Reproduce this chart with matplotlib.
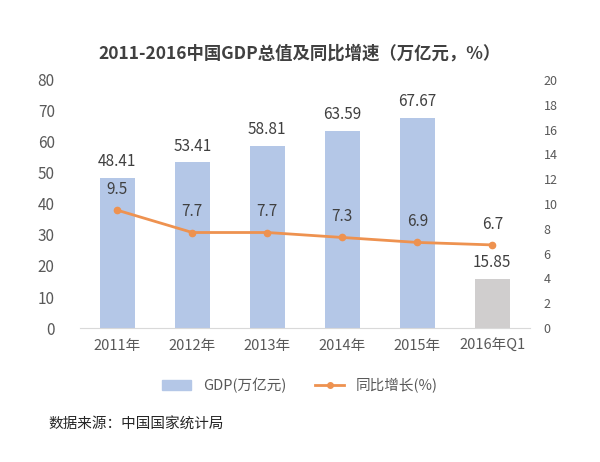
import matplotlib.pyplot as plt
from matplotlib.lines import Line2D
from matplotlib.patches import Patch

plt.rcParams['font.family'] = ['Noto Sans CJK SC', 'DejaVu Sans']

# 數據
categories = ['2011年', '2012年', '2013年', '2014年', '2015年', '2016年Q1']
gdp = [48.41, 53.41, 58.81, 63.59, 67.67, 15.85]
growth = [9.5, 7.7, 7.7, 7.3, 6.9, 6.7]
bar_colors = ['#B4C7E7'] * 5 + ['#D0CECE']

text_color = '#595959'
line_color = '#EE9250'

fig = plt.figure(figsize=(6, 4.62), dpi=100)
ax = fig.add_axes([0.133, 0.29, 0.75, 0.537])
x = range(len(categories))

# 柱狀圖：GDP
ax.bar(x, gdp, width=0.46, color=bar_colors, zorder=2)
for i, v in enumerate(gdp):
    ax.text(i, v + 2.5, f'{v:.2f}', ha='center', va='bottom', fontsize=11, color='#404040')
ax.set_ylim(0, 80)
ax.set_yticks(range(0, 81, 10))
ax.set_xlim(-0.5, 5.5)
ax.set_xticks(list(x))
ax.set_xticklabels(categories)
ax.tick_params(axis='y', length=0, labelsize=11, labelcolor=text_color, pad=18)
ax.tick_params(axis='x', length=0, labelsize=10.5, labelcolor=text_color, pad=8)
for s in ['top', 'right', 'left']:
    ax.spines[s].set_visible(False)
ax.spines['bottom'].set_color('#D9D9D9')

# 折線圖：同比增長
ax2 = ax.twinx()
ax2.plot(x, growth, color=line_color, lw=2, marker='o', ms=4.5, zorder=3)
for i, v in enumerate(growth):
    ax2.text(i, v + 1.0, f'{v}', ha='center', va='bottom', fontsize=11, color='#404040')
ax2.set_ylim(0, 20)
ax2.set_yticks(range(0, 21, 2))
ax2.tick_params(axis='y', length=0, labelsize=9, labelcolor=text_color, pad=10)
for s in ['top', 'right', 'left', 'bottom']:
    ax2.spines[s].set_visible(False)

fig.text(0.5, 0.885, '2011-2016中国GDP总值及同比增速（万亿元，%）', ha='center', va='center',
         fontsize=12.5, fontweight='bold', color='#404040')

handles = [Patch(color='#B4C7E7'),
           Line2D([0], [0], color=line_color, lw=2, marker='o', ms=4)]
fig.legend(handles, ['GDP(万亿元)', '同比增长(%)'], loc='center', bbox_to_anchor=(0.5, 0.165),
           ncol=2, frameon=False, fontsize=10.5, labelcolor=text_color,
           handlelength=2, columnspacing=2)

fig.text(0.08, 0.08, '数据来源：中国国家统计局', ha='left', va='center', fontsize=10.5, color='#262626')

fig.savefig('out.png', dpi=100, facecolor='white')
